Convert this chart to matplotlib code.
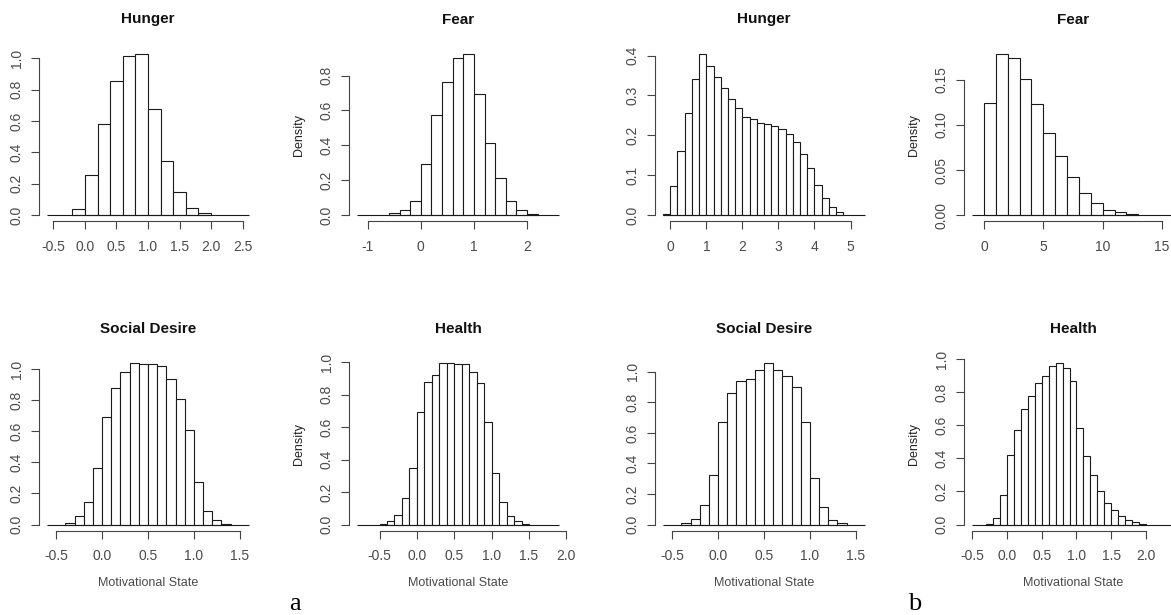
import numpy as np
import matplotlib
matplotlib.use("Agg")
import matplotlib.pyplot as plt

plt.rcParams['font.family'] = ['Liberation Sans', 'DejaVu Sans']

# ---- data: histogram densities ----
titles = ["Hunger", "Fear", "Hunger", "Fear",
          "Social Desire", "Health", "Social Desire", "Health"]

# (first bin edge, bin width)
bin_start = [-0.2, -0.6, -0.2, 0.0, -0.4, -0.5, -0.4, -0.3]
bin_width = [0.2, 0.2, 0.2, 1.0, 0.1, 0.1, 0.1, 0.1]

hunger_a = [0.038, 0.255, 0.58, 0.858, 1.013, 1.028, 0.677, 0.344, 0.144, 0.045, 0.013]
fear_a = [0.011, 0.029, 0.08, 0.29, 0.573, 0.762, 0.903, 0.924, 0.697, 0.414,
          0.21, 0.08, 0.027, 0.005]
hunger_b = [0.002, 0.072, 0.160, 0.256, 0.342, 0.404, 0.375, 0.346, 0.319, 0.291,
            0.268, 0.247, 0.240, 0.230, 0.228, 0.223, 0.216, 0.204, 0.182, 0.153,
            0.117, 0.076, 0.043, 0.020, 0.007]
fear_b = [0.125, 0.179, 0.174, 0.151, 0.123, 0.091, 0.066, 0.042, 0.024, 0.013,
          0.006, 0.003, 0.001]
social_a = [0.013, 0.055, 0.147, 0.365, 0.691, 0.876, 0.979, 1.036, 1.03, 1.03,
            1.017, 0.938, 0.806, 0.608, 0.275, 0.09, 0.028, 0.006]
health_a = [0.006, 0.02, 0.061, 0.166, 0.35, 0.693, 0.877, 0.92, 0.992, 0.992,
            0.986, 0.988, 0.937, 0.871, 0.63, 0.315, 0.137, 0.053, 0.02, 0.006]
social_b = [0.009, 0.035, 0.127, 0.325, 0.669, 0.864, 0.939, 0.954, 1.015, 1.055,
            1.015, 0.976, 0.899, 0.671, 0.303, 0.112, 0.029, 0.007]
health_b = [0.004, 0.038, 0.178, 0.419, 0.573, 0.698, 0.779, 0.858, 0.901, 0.96,
            0.974, 0.947, 0.866, 0.583, 0.415, 0.30, 0.202, 0.13, 0.087, 0.051,
            0.028, 0.014, 0.006]
densities = [hunger_a, fear_a, hunger_b, fear_b, social_a, health_a, social_b, health_b]

x_limits = [(-0.6, 2.6), (-1.2, 2.6), (-0.2, 5.4), (-1.0, 16.0),
            (-0.6, 1.6), (-0.8, 1.9), (-0.6, 1.6), (-0.5, 2.4)]
x_ticks = [np.arange(-0.5, 2.51, 0.5), [-1, 0, 1, 2], [0, 1, 2, 3, 4, 5], [0, 5, 10, 15],
           np.arange(-0.5, 1.51, 0.5), np.arange(-0.5, 2.01, 0.5),
           np.arange(-0.5, 1.51, 0.5), np.arange(-0.5, 2.01, 0.5)]
x_fmt = ["%.1f", "%d", "%d", "%d", "%.1f", "%.1f", "%.1f", "%.1f"]
y_ticks = [np.arange(0, 1.01, 0.2), np.arange(0, 0.81, 0.2), np.arange(0, 0.41, 0.1),
           np.arange(0, 0.151, 0.05)] + [np.arange(0, 1.01, 0.2)] * 4
y_fmt = ["%.1f", "%.1f", "%.1f", "%.2f", "%.1f", "%.1f", "%.1f", "%.1f"]

# ---- layout (pixels) ----
W, H = 1171, 615
col_left = [39, 349, 655, 964]
row_top = [47.5, 357]
pw, ph = 218, 174

fig = plt.figure(figsize=(W / 100, H / 100), dpi=100)

axis_col = '#444444'
lab_col = '#4a4a4a'

for i in range(8):
    r, c = divmod(i, 4)
    ax = fig.add_axes([col_left[c] / W, 1 - (row_top[r] + ph) / H, pw / W, ph / H])
    d = np.array(densities[i])
    edges = bin_start[i] + bin_width[i] * np.arange(len(d))
    ax.bar(edges, d, width=bin_width[i], align='edge', facecolor='white',
           edgecolor='#1a1a1a', linewidth=0.8)
    x0, x1 = x_limits[i]
    ax.hlines(0, x0, x1, color='#1a1a1a', linewidth=0.8)
    ext = 0.04 * (x1 - x0)
    ax.set_xlim(x0 - ext, x1 + ext)
    ymax = d.max()
    ax.set_ylim(-0.04 * ymax, 1.04 * ymax)

    ax.set_xticks(x_ticks[i])
    ax.set_xticklabels([x_fmt[i] % v for v in x_ticks[i]])
    ax.set_yticks(y_ticks[i])
    ax.set_yticklabels([y_fmt[i] % v for v in y_ticks[i]], rotation=90, va='center')

    for s in ['top', 'right']:
        ax.spines[s].set_visible(False)
    ax.spines['left'].set_bounds(y_ticks[i][0], y_ticks[i][-1])
    ax.spines['bottom'].set_bounds(x_ticks[i][0], x_ticks[i][-1])
    for s in ['left', 'bottom']:
        ax.spines[s].set_color(axis_col)
        ax.spines[s].set_linewidth(0.8)
    ax.tick_params(direction='out', length=6, width=0.8, color=axis_col,
                   labelcolor=lab_col, labelsize=10)
    ax.tick_params(axis='x', pad=7)
    ax.tick_params(axis='y', pad=5)
    ax.patch.set_visible(False)

    ax.text(0.5, 1 + 28 / ph, titles[i], transform=ax.transAxes, ha='center',
            va='center', fontsize=11, fontweight='bold', color='#111111')
    if c % 2 == 1:
        ax.text(-50 / pw, 0.5, "Density", transform=ax.transAxes, rotation=90,
                ha='center', va='center', fontsize=9, color='#222222')
    if r == 1:
        ax.text(0.5, -51.5 / ph, "Motivational State", transform=ax.transAxes,
                ha='center', va='center', fontsize=9, color=lab_col)

fig.text(295 / W, 1 - 610 / H, "a", family='Liberation Serif', fontsize=19,
         ha='center', va='baseline')
fig.text(915 / W, 1 - 610 / H, "b", family='Liberation Serif', fontsize=19,
         ha='center', va='baseline')

fig.savefig("out.png", dpi=100)
